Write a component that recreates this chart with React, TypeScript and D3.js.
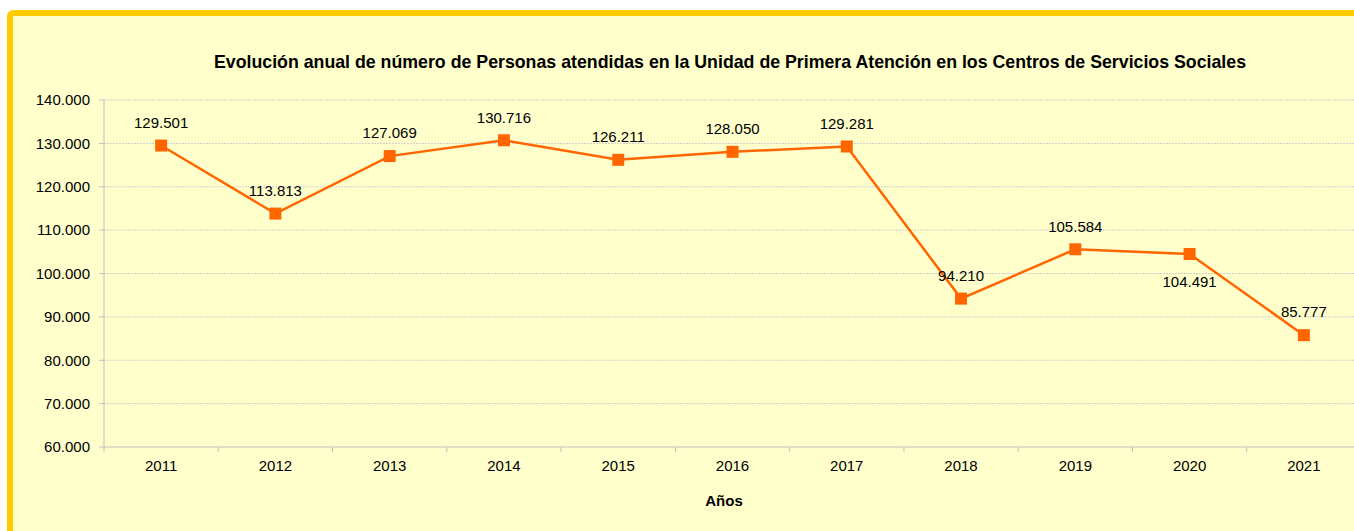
import React from "react";
import * as d3 from "d3";

const years = ["2011","2012","2013","2014","2015","2016","2017","2018","2019","2020","2021"];
const values = [129501,113813,127069,130716,126211,128050,129281,94210,105584,104491,85777];
const labelBelow = [false,false,false,false,false,false,false,false,false,true,false];
const yTicks = [60000,70000,80000,90000,100000,110000,120000,130000,140000];
const title = "Evolución anual de número de Personas atendidas en la Unidad de Primera Atención en los Centros de Servicios Sociales";
const xTitle = "Años";

const fmt = (v: number) => d3.format(",")(v).replace(/,/g, ".");

export default function App() {
  const W = 1354, H = 531;
  const left = 104, right = 1361, top = 100, bottom = 447;
  const x = d3.scaleBand().domain(years).range([left, right]);
  const y = d3.scaleLinear().domain([60000, 140000]).range([bottom, top]);
  const line = d3.line<number>()
    .x((_, i) => (x(years[i]) as number) + x.bandwidth() / 2)
    .y((d) => y(d));
  const font = "Arial, 'Liberation Sans', sans-serif";
  return (
    <div style={{ position: "absolute", left: 0, top: 0, width: W, height: H, overflow: "hidden" }}>
      <svg width={W} height={H} style={{ display: "block" }} fontFamily={font}>
        <rect x={0} y={0} width={W} height={H} fill="#ffffff" />
        <rect x={10} y={13} width={W + 20} height={H + 20} fill="#FFFFCC" stroke="#FFCC00" strokeWidth={6} rx={3} />
        <text x={730} y={62} dy="0.35em" textAnchor="middle" fontSize={17.75} fontWeight="bold" fill="#000">{title}</text>
        {yTicks.map((t) => (
          <g key={t}>
            {t !== 60000 && (
              <line x1={left} x2={right} y1={y(t)} y2={y(t)} stroke="#cfcfcf" strokeWidth={1} strokeDasharray="2,1" />
            )}
            <line x1={left - 5} x2={left} y1={y(t)} y2={y(t)} stroke="#bfbfbf" />
            <text x={90} y={y(t)} dy="0.35em" textAnchor="end" fontSize={15} fill="#000">{fmt(t)}</text>
          </g>
        ))}
        <line x1={left} x2={left} y1={top} y2={bottom} stroke="#bfbfbf" />
        <line x1={left} x2={right} y1={bottom} y2={bottom} stroke="#bfbfbf" />
        {years.map((yr, i) => (
          <g key={yr}>
            <line x1={(x(yr) as number)} x2={(x(yr) as number)} y1={bottom} y2={bottom + 5} stroke="#bfbfbf" />
            <text x={(x(yr) as number) + x.bandwidth() / 2} y={466} dy="0.35em" textAnchor="middle" fontSize={15} fill="#000">{yr}</text>
          </g>
        ))}
        <text x={724} y={501} dy="0.35em" textAnchor="middle" fontSize={15} fontWeight="bold" fill="#000">{xTitle}</text>
        <path d={line(values) || ""} fill="none" stroke="#FF6600" strokeWidth={2.5} />
        {values.map((v, i) => {
          const cx = (x(years[i]) as number) + x.bandwidth() / 2;
          const cy = y(v);
          return (
            <g key={i}>
              <rect x={cx - 6} y={cy - 6} width={12} height={12} fill="#FF6600" />
              <text x={cx} y={labelBelow[i] ? cy + 28 : cy - 23} dy="0.35em" textAnchor="middle" fontSize={15} fill="#000">{fmt(v)}</text>
            </g>
          );
        })}
      </svg>
    </div>
  );
}
